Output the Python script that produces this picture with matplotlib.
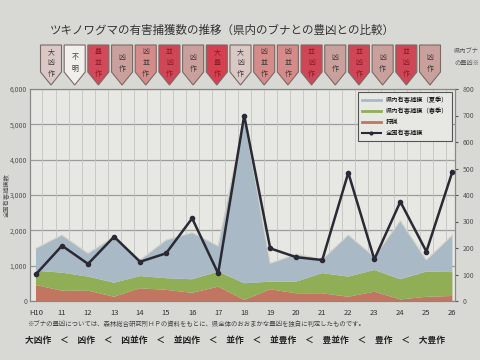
import matplotlib.pyplot as plt
from matplotlib.patches import Polygon

plt.rcParams['font.family'] = ['Noto Sans CJK JP', 'DejaVu Sans']

years = ['H10', '11', '12', '13', '14', '15', '16', '17', '18',
         '19', '20', '21', '22', '23', '24', '25', '26']
buna = ['大凶作', '不明', '豊並作', '凶作', '凶並作', '並凶作', '凶作', '大豊作', '大凶作',
        '凶並作', '凶並作', '並凶作', '凶作', '並凶作', '凶作', '並凶作', '凶作']
# 県内 (right axis)
hunting = [60, 39, 39, 16, 48, 42, 31, 54, 4, 44, 29, 29, 16, 35, 6, 16, 19]
spring = [54, 68, 53, 53, 46, 44, 51, 57, 63, 29, 44, 76, 76, 82, 76, 95, 90]
summer = [85, 142, 88, 173, 61, 144, 176, 97, 623, 69, 104, 52, 157, 50, 221, 44, 140]
# 全国 (left axis)
national = [760, 1565, 1050, 1820, 1110, 1350, 2340, 780, 5250,
            1490, 1240, 1160, 3630, 1180, 2810, 1400, 3660]

buna_colors = {'大凶作': '#dac8c4', '不明': '#f1efec', '凶作': '#c9a09c',
               '凶並作': '#d58b89', '並凶作': '#cf4656', '豊並作': '#d2495a',
               '大豊作': '#d4404f'}

fig = plt.figure(figsize=(4.8, 3.6), dpi=100, facecolor='#d8d8d4')
ax = fig.add_axes([30 / 480, 1 - 301 / 360, 425 / 480, 212 / 360])
ax.set_facecolor('#e7e7e3')
x = list(range(len(years)))

for v in range(0, 7000, 1000):
    ax.axhline(v * 800 / 6000, color='#9c9c9c', lw=0.9, zorder=0)
for i in range(len(years) * 2):
    ax.axvline(i * 0.5 - 0.25, color='#c4c4c2', lw=0.6, zorder=0)

ax.stackplot(x, hunting, spring, summer,
             colors=['#c27560', '#8fae55', '#a9bac6'], zorder=2)
ax.plot(x, [h + s + u for h, s, u in zip(hunting, spring, summer)],
        color='#d6d6c8', lw=0.8, zorder=2)
ax.set_ylim(0, 800)
ax.set_xlim(-0.23, 16.1)

ax2 = ax.twinx()
ax.yaxis.tick_right()
ax.set_yticks(range(0, 900, 100))
ax.tick_params(axis='y', labelsize=5, colors='#555555', length=2,
               left=False, labelleft=False, right=True, labelright=True)

ax2.plot(x, national, color='#2a2a34', lw=1.8, marker='o', ms=3, zorder=5)
ax2.set_ylim(0, 6000)
ax2.set_yticks(range(0, 7000, 1000))
ax2.set_yticklabels(['0', '1,000', '2,000', '3,000', '4,000', '5,000', '6,000'])
ax2.tick_params(axis='y', labelsize=5, colors='#555555', length=0, pad=2,
                left=True, labelleft=True, right=False, labelright=False)
ax2.set_ylabel('全国有害捕獲数', fontsize=4.5, color='#555555')
ax2.yaxis.set_label_position('left')
ax2.yaxis.set_label_coords(-0.045, 0.5)

ax.set_xticks(x)
ax.set_xticklabels(years, fontsize=5.5, color='#333333')
ax.tick_params(axis='x', length=0, pad=6)
for a in (ax, ax2):
    for s in a.spines.values():
        s.set_color('#888888')
        s.set_linewidth(0.8)

leg_handles = [plt.Line2D([], [], color='#a9bac6', lw=2),
               plt.Line2D([], [], color='#8fae55', lw=2),
               plt.Line2D([], [], color='#c27560', lw=2),
               plt.Line2D([], [], color='#2a2a34', lw=1.5, marker='o', ms=2)]
leg = ax2.legend(leg_handles, ['県内有害捕獲（夏季）', '県内有害捕獲（春季）', '狩猟', '全国有害捕獲'],
                 loc='upper right', bbox_to_anchor=(1.0, 1.0), fontsize=4.5,
                 frameon=True, fancybox=False, edgecolor='#555555',
                 facecolor='#e7e7e3', framealpha=1, handlelength=3, borderpad=0.6,
                 labelspacing=0.5)
leg.get_frame().set_linewidth(0.8)

fig.text(50 / 480, 1 - 30 / 360, 'ツキノワグマの有害捕獲数の推移（県内のブナとの豊凶との比較）',
         fontsize=8.3, color='#333333', va='center')
fig.text(454 / 480, 1 - 57 / 360, '県内ブナ\nの豊凶※', fontsize=4.5, color='#555555',
         va='center', linespacing=1.6)

# banners
n = len(buna)
for i, lab in enumerate(buna):
    cx = (51 + i * (430 - 51) / (n - 1)) / 480
    w = 10.5 / 480
    top, sh, tip = 1 - 45 / 360, 1 - 72 / 360, 1 - 85 / 360
    col = buna_colors[lab]
    poly = Polygon([(cx - w, top), (cx + w, top), (cx + w, sh), (cx, tip), (cx - w, sh)],
                   closed=True, transform=fig.transFigure, facecolor=col,
                   edgecolor='#7a6a66', lw=0.8)
    fig.add_artist(poly)
    tc = '#8a1a25' if lab in ('並凶作', '豊並作', '大豊作') else '#3a3a3a'
    fig.text(cx, 1 - 63 / 360, '\n'.join(lab), fontsize=5, color=tc,
             ha='center', va='center', linespacing=1.5)

fig.text(27 / 480, 1 - 324 / 360,
         '※ブナの豊凶については、森林総合研究所ＨＰの資料をもとに、県全体のおおまかな豊凶を独自に判定したものです。',
         fontsize=4.6, color='#444444', va='center')
fig.text(25 / 480, 1 - 341 / 360,
         '大凶作　＜　凶作　＜　凶並作　＜　並凶作　＜　並作　＜　並豊作　＜　豊並作　＜　豊作　＜　大豊作',
         fontsize=6.3, color='#222222', va='center', fontweight='bold')

fig.savefig('out.png', dpi=100, facecolor=fig.get_facecolor())
